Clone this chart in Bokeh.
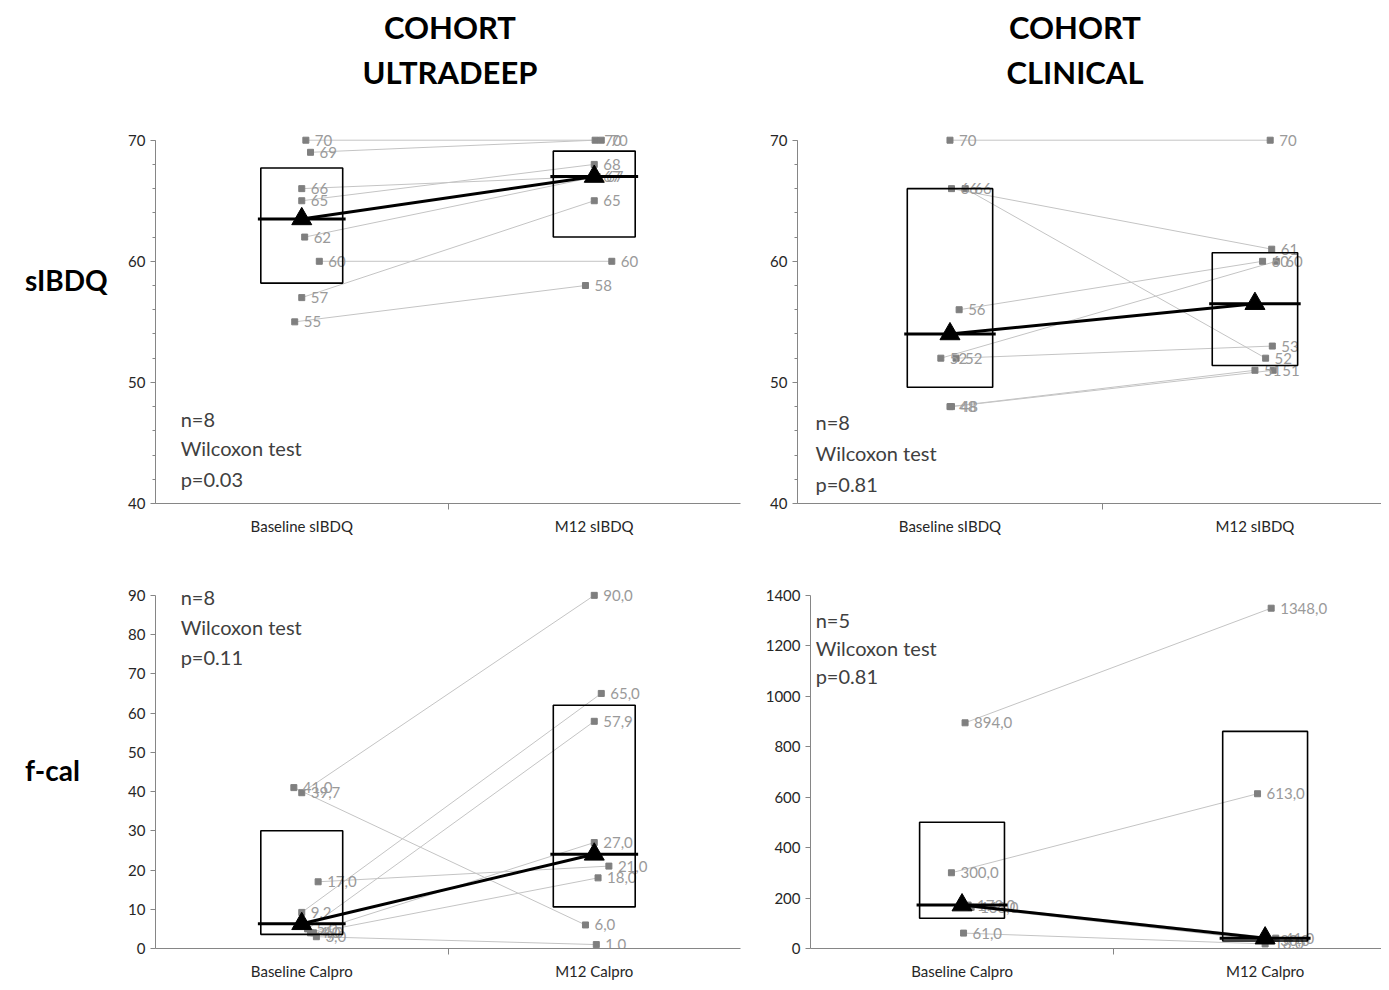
from bokeh.plotting import figure
from bokeh.models import Range1d, FixedTicker, Label, Div, Spacer, ColumnDataSource
from bokeh.layouts import row, column
from bokeh.core.properties import value
from bokeh.embed import file_html
from bokeh.resources import INLINE

FONT = "Lato"

# ---------------- data ----------------
cohorts = ["COHORT<br>ULTRADEEP", "COHORT<br>CLINICAL"]
row_labels = ["sIBDQ", "f-cal"]
cats_sibdq = ["Baseline sIBDQ", "M12 sIBDQ"]
cats_fcal = ["Baseline Calpro", "M12 Calpro"]

# Ultradeep sIBDQ (paired patients)
ud_sibdq_base = [70, 69, 66, 65, 62, 60, 57, 55]
ud_sibdq_m12 = [70, 70, 67, 68, 67, 60, 65, 58]
ud_sibdq_box_low = [58.2, 62.0]
ud_sibdq_box_high = [67.7, 69.1]
ud_sibdq_median = [63.5, 67.0]
ud_sibdq_stats = ["n=8", "Wilcoxon test", "p=0.03"]

# Clinical sIBDQ
cl_sibdq_base = [70, 66, 66, 56, 52, 52, 48, 48]
cl_sibdq_m12 = [70, 61, 52, 60, 60, 53, 51, 51]
cl_sibdq_box_low = [49.6, 51.4]
cl_sibdq_box_high = [66.0, 60.7]
cl_sibdq_median = [54.0, 56.5]
cl_sibdq_stats = ["n=8", "Wilcoxon test", "p=0.81"]

# Ultradeep f-cal
ud_fcal_base = [41.0, 39.7, 17.0, 9.2, 5.0, 4.0, 4.0, 3.0]
ud_fcal_m12 = [6.0, 90.0, 21.0, 65.0, 57.9, 27.0, 18.0, 1.0]
ud_fcal_box_low = [3.6, 10.6]
ud_fcal_box_high = [30.0, 62.0]
ud_fcal_median = [6.3, 24.0]
ud_fcal_stats = ["n=8", "Wilcoxon test", "p=0.11"]

# Clinical f-cal
cl_fcal_base = [894.0, 300.0, 172.0, 163.0, 61.0]
cl_fcal_m12 = [1348.0, 613.0, 41.0, 30.0, 18.0]
cl_fcal_box_low = [120.0, 30.0]
cl_fcal_box_high = [500.0, 860.0]
cl_fcal_median = [172.0, 41.0]
cl_fcal_stats = ["n=5", "Wilcoxon test", "p=0.81"]

# small horizontal scatter of the points (style, in category units)
ud_sibdq_jit_b = [0.014, 0.03, 0.0, 0.0, 0.01, 0.06, 0.0, -0.024]
ud_sibdq_jit_m = [0.024, 0.003, 0.0, 0.0, 0.01, 0.06, 0.0, -0.03]
cl_sibdq_jit_b = [0.0, 0.005, 0.05, 0.03, -0.03, 0.02, 0.0, 0.005]
cl_sibdq_jit_m = [0.05, 0.055, 0.035, 0.025, 0.07, 0.057, 0.0, 0.06]
ud_fcal_jit_b = [-0.027, 0.0, 0.056, 0.0, 0.02, 0.03, 0.04, 0.05]
ud_fcal_jit_m = [-0.03, 0.0, 0.05, 0.024, 0.0, 0.0, 0.013, 0.007]
cl_fcal_jit_b = [0.01, -0.035, 0.02, 0.03, 0.005]
cl_fcal_jit_m = [0.02, -0.025, 0.035, 0.02, 0.0]

AXIS_COL = "#868686"
TXT_COL = "#404040"
TICK_COL = "#262626"


def make_panel(width, height, bl, br, bt, bb, xmax, ylo, yhi, ybound, yticks, yminor,
               cats, base, m12, jb, jm, lo, hi, med, fmt, stats, sx, sy):
    p = figure(width=width, height=height, output_backend="svg", toolbar_location=None,
               x_range=Range1d(0, xmax), y_range=Range1d(ylo, yhi))
    p.min_border_left = bl
    p.min_border_right = br
    p.min_border_top = bt
    p.min_border_bottom = bb
    p.outline_line_color = None
    p.xgrid.visible = False
    p.ygrid.visible = False
    p.background_fill_color = "white"

    xb = [0.5 + j for j in jb]
    xm = [1.5 + j for j in jm]

    # paired lines
    p.multi_line(xs=[[a, b] for a, b in zip(xb, xm)], ys=[[a, b] for a, b in zip(base, m12)],
                 line_color="#c4c4c4", line_width=1)

    # points and value labels
    src = ColumnDataSource(dict(x=xb + xm, y=base + m12, t=[fmt(v) for v in base + m12]))
    p.scatter(x="x", y="y", source=src, marker="square", size=6,
              fill_color="#7f7f7f", line_color="#7f7f7f")
    p.text(x="x", y="y", text="t", source=src, x_offset=9, text_baseline="middle",
           text_font=value(FONT), text_font_size="15px", text_color="#9a9a9a")

    # boxes
    bw = 0.28
    p.quad(left=[0.5 - bw / 2, 1.5 - bw / 2], right=[0.5 + bw / 2, 1.5 + bw / 2],
           bottom=lo, top=hi, fill_color=None, line_color="black", line_width=1.6)
    # median lines
    mw = 0.3
    p.segment(x0=[0.5 - mw / 2, 1.5 - mw / 2], x1=[0.5 + mw / 2, 1.5 + mw / 2],
              y0=med, y1=med, line_color="black", line_width=3)
    p.line(x=[0.5, 1.5], y=med, line_color="black", line_width=3)
    p.scatter(x=[0.5, 1.5], y=med, marker="triangle", size=20,
              fill_color="black", line_color="black")

    # stats text
    for t, yy in zip(stats, sy):
        p.add_layout(Label(x=sx, y=yy, text=t, text_font=FONT, text_font_size="20px",
                           text_color=TXT_COL, text_baseline="middle"))

    # x axis
    xa = p.xaxis[0]
    xa.ticker = FixedTicker(ticks=[0.5, 1.5], minor_ticks=[1.0])
    xa.major_label_overrides = {0.5: cats[0], 1.5: cats[1]}
    xa.major_tick_line_color = None
    xa.minor_tick_in = 0
    xa.minor_tick_out = 6
    xa.minor_tick_line_color = AXIS_COL
    xa.axis_line_color = AXIS_COL
    xa.major_label_text_font = FONT
    xa.major_label_text_font_size = "15px"
    xa.major_label_text_color = TICK_COL
    xa.major_label_standoff = 7

    ya = p.yaxis[0]
    ya.ticker = FixedTicker(ticks=yticks, minor_ticks=yminor)
    ya.bounds = (ylo, ybound)
    ya.major_tick_in = 0
    ya.major_tick_out = 5
    ya.minor_tick_in = 0
    ya.minor_tick_out = 3
    ya.major_tick_line_color = AXIS_COL
    ya.minor_tick_line_color = AXIS_COL
    ya.axis_line_color = AXIS_COL
    ya.major_label_text_font = FONT
    ya.major_label_text_font_size = "15px"
    ya.major_label_text_color = TICK_COL
    ya.major_label_standoff = 5
    return p


fmt_int = lambda v: f"{v:.0f}"
fmt_dec = lambda v: f"{v:.1f}".replace(".", ",")

p1 = make_panel(638, 435, 45, 8, 9, 47, 2.0, 40, 70.8, 70, [40, 50, 60, 70],
                list(range(40, 71, 2)), cats_sibdq, ud_sibdq_base, ud_sibdq_m12,
                ud_sibdq_jit_b, ud_sibdq_jit_m, ud_sibdq_box_low, ud_sibdq_box_high,
                ud_sibdq_median, fmt_int, ud_sibdq_stats, 0.086, [47.0, 44.55, 42.05])
p2 = make_panel(633, 435, 49, 0, 10, 52, 1.915, 40, 70.8, 70, [40, 50, 60, 70],
                list(range(40, 71, 2)), cats_sibdq, cl_sibdq_base, cl_sibdq_m12,
                cl_sibdq_jit_b, cl_sibdq_jit_m, cl_sibdq_box_low, cl_sibdq_box_high,
                cl_sibdq_median, fmt_int, cl_sibdq_stats, 0.059, [46.7, 44.2, 41.65])
p3 = make_panel(638, 427, 45, 8, 32, 30, 2.0, 0, 92, 90, list(range(0, 91, 10)), [],
                cats_fcal, ud_fcal_base, ud_fcal_m12, ud_fcal_jit_b, ud_fcal_jit_m,
                ud_fcal_box_low, ud_fcal_box_high, ud_fcal_median, fmt_dec, ud_fcal_stats,
                0.086, [89.5, 81.9, 74.4])
p4 = make_panel(633, 427, 62, 0, 7, 30, 1.884, 0, 1430, 1400, list(range(0, 1401, 200)), [],
                cats_fcal, cl_fcal_base, cl_fcal_m12, cl_fcal_jit_b, cl_fcal_jit_m,
                cl_fcal_box_low, cl_fcal_box_high, cl_fcal_median, fmt_dec, cl_fcal_stats,
                0.017, [1301, 1191, 1081])

title_style = ("font-family:Lato; font-weight:bold; font-size:31px; line-height:45px;"
               "text-align:center; color:#000; margin-top:-3px;")
h1 = Div(text=f'<div style="{title_style} width:400px">{cohorts[0]}</div>',
         width=400, height=112, margin=0)
h2 = Div(text=f'<div style="{title_style} width:400px">{cohorts[1]}</div>',
         width=400, height=112, margin=0)
header = row(Spacer(width=242, height=112, margin=0), h1,
             Spacer(width=225, height=112, margin=0), h2)

lab_style = "font-family:Lato; font-weight:bold; font-size:28px; line-height:40px; color:#000;"
l1 = Div(text=f'<div style="{lab_style} padding-top:140px; padding-left:17px">{row_labels[0]}</div>',
         width=102, height=435, margin=0)
l2 = Div(text=f'<div style="{lab_style} padding-top:195px; padding-left:17px">{row_labels[1]}</div>',
         width=102, height=427, margin=0)

body = column(header, row(l1, p1, p2), row(l2, p3, p4))
layout = column(Spacer(width=1381, height=8, margin=0),
                row(Spacer(width=8, height=974, margin=0), body))

open("out.html", "w").write(file_html(layout, INLINE))
